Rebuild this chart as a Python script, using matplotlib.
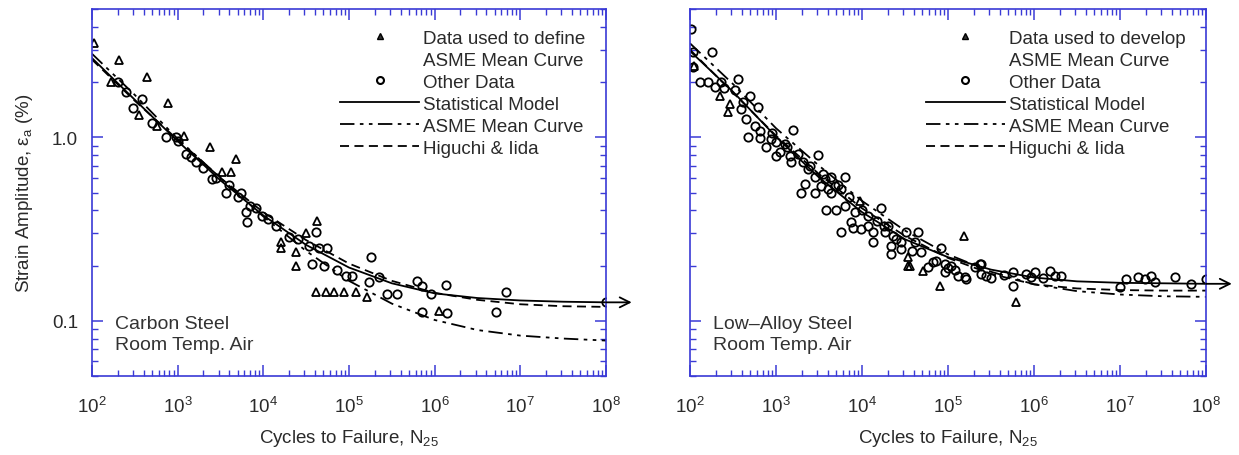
import numpy as np
import matplotlib
matplotlib.use("Agg")
import matplotlib.pyplot as plt
from matplotlib.lines import Line2D
from matplotlib.ticker import LogLocator, FixedLocator, FixedFormatter, NullFormatter

plt.rcParams['font.family'] = ['Liberation Sans', 'DejaVu Sans']
plt.rcParams['mathtext.fontset'] = 'custom'
plt.rcParams['mathtext.rm'] = 'Liberation Sans'
plt.rcParams['mathtext.it'] = 'Liberation Sans:italic'
plt.rcParams['mathtext.default'] = 'regular'

# ---------------- data (log10 N, strain amplitude %) ----------------
# Carbon steel
cs_asme_logN = [2.02, 2.32, 2.22, 2.64, 2.89, 2.55, 2.76, 3.07, 3.38, 3.52, 3.68, 3.62, 4.63,
                4.21, 4.21, 4.38, 4.38, 4.50, 4.61, 4.73, 4.82, 4.94, 5.08, 5.21, 6.05]
cs_asme_eps = [3.28, 2.65, 1.99, 2.12, 1.53, 1.33, 1.15, 1.01, 0.89, 0.645, 0.76, 0.65, 0.35,
               0.27, 0.25, 0.237, 0.20, 0.30, 0.144, 0.144, 0.144, 0.144, 0.144, 0.135, 0.113]
cs_other_logN = [2.30, 2.40, 2.48, 2.58, 2.70, 2.86, 2.98, 3.00, 3.10, 3.15, 3.21, 3.30, 3.40,
                 3.45, 3.56, 3.60, 3.70, 3.74, 3.80, 3.81, 3.85, 3.91, 3.98, 4.05, 4.15, 4.30,
                 4.40, 4.53, 4.57, 4.61, 4.65, 4.71, 4.74, 4.86, 4.96, 5.03, 5.23, 5.26, 5.35,
                 5.44, 5.56, 5.79, 5.85, 5.85, 5.96, 6.13, 6.14, 6.72, 6.83, 8.00]
cs_other_eps = [2.00, 1.76, 1.45, 1.61, 1.20, 1.00, 1.00, 0.95, 0.81, 0.78, 0.73, 0.68, 0.59,
                0.60, 0.50, 0.55, 0.47, 0.50, 0.39, 0.345, 0.42, 0.41, 0.37, 0.36, 0.33, 0.286,
                0.28, 0.256, 0.204, 0.305, 0.25, 0.20, 0.25, 0.19, 0.176, 0.176, 0.163, 0.223, 0.174,
                0.140, 0.140, 0.165, 0.155, 0.112, 0.140, 0.157, 0.110, 0.112, 0.144, 0.127]

curve_logN = [2.0, 2.5, 3.0, 3.5, 4.0, 4.5, 5.0, 5.5, 6.0, 6.5, 7.0, 7.5, 8.0]
cs_model = [2.70, 1.60, 0.953, 0.582, 0.375, 0.259, 0.195, 0.160, 0.141, 0.133, 0.129, 0.127, 0.126]
cs_asme_mean = [2.85, 1.70, 0.98, 0.60, 0.37, 0.24, 0.165, 0.124, 0.101, 0.089, 0.083, 0.080, 0.078]
cs_higuchi = [2.65, 1.58, 0.97, 0.60, 0.39, 0.275, 0.205, 0.165, 0.142, 0.130, 0.123, 0.120, 0.119]

# Low-alloy steel
las_asme_logN = [2.05, 2.35, 2.47, 2.44, 3.98, 4.53, 4.53, 4.56, 4.71, 5.19, 4.91, 5.79]
las_asme_eps = [2.45, 1.67, 1.51, 1.37, 0.45, 0.223, 0.200, 0.20, 0.187, 0.29, 0.155, 0.127]
las_other_logN = [2.01, 2.03, 2.25, 2.03, 2.12, 2.21, 2.29, 2.36, 2.56, 2.52, 2.70, 2.79, 2.59,
                  2.65, 2.76, 2.81, 2.67, 2.81, 2.94, 3.00, 3.20, 2.88, 3.05, 3.13, 3.00, 3.16,
                  3.26, 3.17, 3.31, 3.49, 3.37, 3.45, 3.57, 3.64, 3.80, 3.52, 3.69, 3.34, 3.29,
                  3.45, 3.64, 3.76, 3.60, 3.58, 3.70, 3.80, 3.92, 4.22, 4.07, 3.87, 3.76, 3.99,
                  4.13, 3.90, 4.07, 4.13, 4.27, 4.30, 4.34, 4.34, 4.45, 4.51, 4.65, 4.62, 4.45,
                  4.69, 4.77, 4.92, 4.86, 4.97, 5.08, 5.20, 5.31, 5.38, 5.38, 5.12, 4.25, 4.36,
                  4.96, 5.03, 5.21, 5.37, 5.44, 5.76, 5.76, 5.91, 5.97, 6.01, 6.19, 6.24, 6.31,
                  7.00, 7.07, 7.21, 7.29, 7.36, 7.41, 7.64, 7.83, 8.00, 2.40, 2.62, 2.95, 3.10,
                  3.40, 3.55, 3.72, 3.85, 4.00, 4.18, 4.40, 4.58, 4.82, 5.00, 5.50, 5.65, 6.10]
las_other_eps = [3.91, 2.93, 2.93, 2.40, 1.99, 1.99, 1.89, 1.99, 2.07, 1.82, 1.67, 1.47, 1.42,
                 1.25, 1.15, 1.08, 1.00, 0.99, 0.975, 0.94, 1.10, 0.89, 0.83, 0.88, 0.79, 0.79,
                 0.81, 0.73, 0.73, 0.80, 0.67, 0.61, 0.59, 0.61, 0.61, 0.54, 0.54, 0.555, 0.50,
                 0.50, 0.50, 0.52, 0.52, 0.40, 0.40, 0.42, 0.39, 0.41, 0.37, 0.345, 0.305, 0.316,
                 0.305, 0.32, 0.33, 0.27, 0.305, 0.33, 0.256, 0.23, 0.27, 0.305, 0.305, 0.27, 0.246,
                 0.237, 0.197, 0.25, 0.212, 0.204, 0.19, 0.174, 0.197, 0.204, 0.18, 0.176, 0.33, 0.29,
                 0.185, 0.20, 0.169, 0.204, 0.176, 0.185, 0.155, 0.18, 0.174, 0.185, 0.187, 0.176, 0.176,
                 0.153, 0.169, 0.174, 0.169, 0.176, 0.163, 0.174, 0.159, 0.169, 1.85, 1.55, 1.05, 0.92,
                 0.70, 0.63, 0.55, 0.47, 0.40, 0.35, 0.28, 0.24, 0.21, 0.195, 0.17, 0.178, 0.172]

las_model = [2.95, 1.77, 1.007, 0.604, 0.391, 0.278, 0.222, 0.190, 0.172, 0.164, 0.161, 0.160, 0.159]
las_asme_mean = [3.25, 1.95, 1.12, 0.70, 0.45, 0.31, 0.23, 0.185, 0.158, 0.145, 0.139, 0.136, 0.135]
las_higuchi = [3.00, 1.75, 1.02, 0.63, 0.41, 0.29, 0.22, 0.180, 0.158, 0.150, 0.147, 0.146, 0.146]

x_tick_exps = [2, 3, 4, 5, 6, 7, 8]
y_ticks = [0.1, 1.0]
y_tick_labels = ['0.1', '1.0']

# ---------------- drawing ----------------
SPINE = '#3a3ad6'
TXT = '#2a2a2a'
W, H = 1239, 456
fig = plt.figure(figsize=(W / 100, H / 100), dpi=100)
ax1 = fig.add_axes([92 / W, (H - 377) / H, (606 - 92) / W, (377 - 10) / H])
ax2 = fig.add_axes([690 / W, (H - 377) / H, (1206 - 690) / W, (377 - 10) / H])

dashdot = (0, (8, 3, 2, 3, 2, 3))
dashed = (0, (5, 3))
FS = 13.5


def p10(v):
    return [10 ** x for x in v]


def setup(ax, ylabels):
    ax.set_xscale('log')
    ax.set_yscale('log')
    ax.set_xlim(1e2, 1e8)
    ax.set_ylim(0.05, 5.0)
    for s in ax.spines.values():
        s.set_color(SPINE)
        s.set_linewidth(1.2)
    ax.xaxis.set_major_locator(FixedLocator([10.0 ** e for e in x_tick_exps]))
    ax.xaxis.set_minor_locator(LogLocator(base=10, subs=np.arange(2, 10), numticks=20))
    ax.xaxis.set_minor_formatter(NullFormatter())
    ax.yaxis.set_major_locator(FixedLocator(y_ticks))
    ax.yaxis.set_minor_locator(LogLocator(base=10, subs=np.arange(2, 10), numticks=20))
    ax.yaxis.set_minor_formatter(NullFormatter())
    if ylabels:
        ax.yaxis.set_major_formatter(FixedFormatter(y_tick_labels))
    else:
        ax.yaxis.set_major_formatter(NullFormatter())
    ax.tick_params(which='both', direction='in', top=True, right=True, color=SPINE,
                   labelsize=FS, labelcolor=TXT)
    ax.tick_params(axis='x', which='major', pad=14)
    ax.tick_params(axis='y', which='major', pad=10)
    ax.tick_params(which='major', length=8, width=1.1)
    ax.tick_params(which='minor', length=4, width=1.0)
    ax.set_xlabel(r'Cycles to Failure, $\mathregular{N_{25}}$', fontsize=13.5, color=TXT,
                  labelpad=8)


def draw(ax, asme_x, asme_y, oth_x, oth_y, model, asme_mean, higuchi, first_label, name):
    ax.plot(p10(curve_logN), model, '-', color='k', lw=1.3)
    ax.plot(p10(curve_logN), asme_mean, color='k', lw=1.3, linestyle=dashdot)
    ax.plot(p10(curve_logN), higuchi, color='k', lw=1.3, linestyle=dashed)
    ax.plot(p10(oth_x), oth_y, linestyle='none', marker='o', ms=6, mfc='none', mec='k', mew=1.3)
    ax.plot(p10(asme_x), asme_y, linestyle='none', marker='^', ms=6, mfc='none', mec='k', mew=1.3)
    ax.annotate('', xy=(10 ** 8.3, model[-1]), xytext=(10 ** curve_logN[-1], model[-1]),
                xycoords='data', annotation_clip=False,
                arrowprops=dict(arrowstyle='->', lw=1.3, color='k', mutation_scale=18,
                                shrinkA=0, shrinkB=0))
    handles = [Line2D([], [], ls='none', marker='^', ms=5, mfc='#333333', mec='k'),
               Line2D([], [], ls='none'),
               Line2D([], [], ls='none', marker='o', ms=5, mfc='none', mec='k', mew=1.5),
               Line2D([], [], color='k', lw=1.3),
               Line2D([], [], color='k', lw=1.3, linestyle=dashdot),
               Line2D([], [], color='k', lw=1.3, linestyle=dashed)]
    labels = [first_label, 'ASME Mean Curve', 'Other Data', 'Statistical Model',
              'ASME Mean Curve', 'Higuchi & Iida']
    leg = ax.legend(handles, labels, loc='upper right', frameon=False, fontsize=FS,
                    handlelength=4.2, handletextpad=0.2, labelspacing=0.26,
                    borderaxespad=0.3, bbox_to_anchor=(0.985, 0.98))
    for t in leg.get_texts():
        t.set_color(TXT)
    ax.text(0.045, 0.115, name, transform=ax.transAxes, fontsize=14, color='#333333',
            va='center', ha='left', linespacing=1.35)


setup(ax1, True)
setup(ax2, False)
draw(ax1, cs_asme_logN, cs_asme_eps, cs_other_logN, cs_other_eps, cs_model, cs_asme_mean,
     cs_higuchi, 'Data used to define', 'Carbon Steel\nRoom Temp. Air')
draw(ax2, las_asme_logN, las_asme_eps, las_other_logN, las_other_eps, las_model, las_asme_mean,
     las_higuchi, 'Data used to develop', 'Low\u2013Alloy Steel\nRoom Temp. Air')

ax1.set_ylabel(r'Strain Amplitude, $\mathregular{\varepsilon_a}$ (%)', fontsize=13.5,
               color=TXT, labelpad=12)

fig.savefig('out.png', dpi=100)
